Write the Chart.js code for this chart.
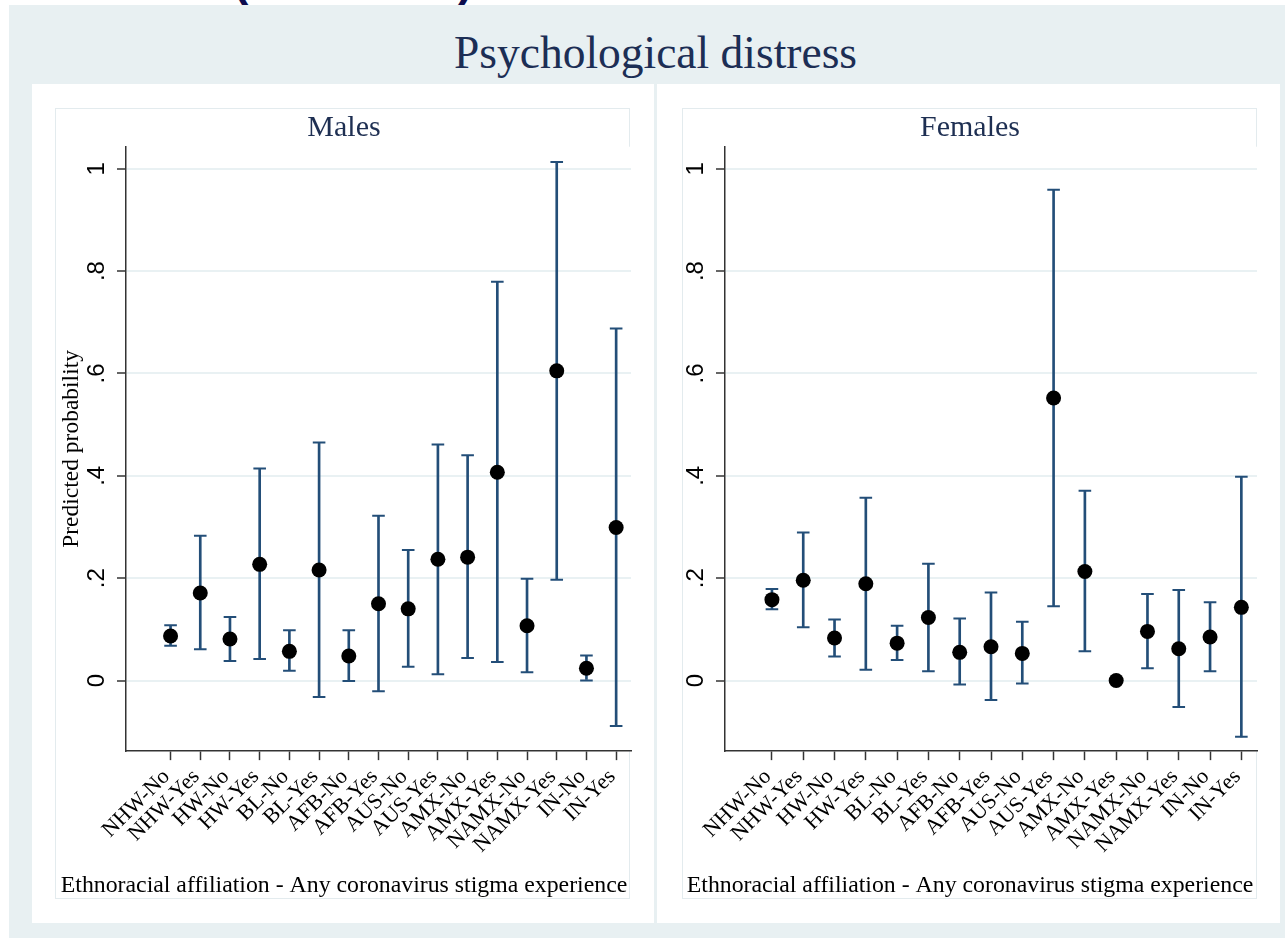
<!DOCTYPE html>
<html>
<head>
<meta charset="utf-8">
<title>Psychological distress</title>
<script src="https://cdn.jsdelivr.net/npm/chart.js@4.4.1/dist/chart.umd.min.js"></script>
<style>
  html, body { margin: 0; padding: 0; background: #ffffff; }
  body { width: 1285px; height: 938px; position: relative; overflow: hidden; }
  #backdrop { position: absolute; left: 9px; top: 5px; width: 1276px; height: 933px; background: #e8f0f2; }
  #heading-strip { position: absolute; left: 0; top: 0; width: 1285px; height: 5px; overflow: hidden; }
  #heading-strip span { position: absolute; top: -44px; font: bold 46px/46px "Liberation Sans", Arial, sans-serif; color: #0c0c4e; }
  #main-title { position: absolute; left: 0; width: 1311px; top: 30px; text-align: center;
    font: 45.5px/45.5px "Liberation Serif", "Times New Roman", serif; color: #1c2e55; }
  .panel { position: absolute; top: 84px; height: 839px; background: #ffffff; }
  .plot-frame { position: absolute; top: 108px; width: 575px; height: 791px; box-sizing: border-box;
    border: 1.5px solid #e3ebee; }
  canvas { position: absolute; top: 84px; }
</style>
</head>
<body>
<div id="backdrop"></div>
<div id="heading-strip"><span style="left:233px">(</span><span style="left:458px">)</span></div>
<div id="main-title">Psychological distress</div>

<div class="panel" style="left:32px;width:622px;"></div>
<div class="panel" style="left:657px;width:623px;"></div>
<div class="plot-frame" style="left:55px;"></div>
<div class="plot-frame" style="left:682px;"></div>
<canvas id="chart-m" width="594" height="839" style="left:47px;"></canvas>
<canvas id="chart-f" width="594" height="839" style="left:673px;"></canvas>

<script>
// Ethnoracial affiliation crossed with any coronavirus stigma experience
const categories = ['NHW-No', 'NHW-Yes', 'HW-No', 'HW-Yes', 'BL-No', 'BL-Yes', 'AFB-No', 'AFB-Yes',
                    'AUS-No', 'AUS-Yes', 'AMX-No', 'AMX-Yes', 'NAMX-No', 'NAMX-Yes', 'IN-No', 'IN-Yes'];

// Predicted probability of psychological distress with 95% confidence limits
const maleEstimate = [0.087, 0.171, 0.081, 0.227, 0.057, 0.216, 0.048, 0.150, 0.140, 0.237, 0.241, 0.407, 0.107, 0.605, 0.024, 0.299];
const maleLower    = [0.068, 0.061, 0.038, 0.042, 0.019, -0.032, -0.001, -0.021, 0.027, 0.012, 0.044, 0.036, 0.016, 0.197, 0.000, -0.089];
const maleUpper    = [0.108, 0.283, 0.124, 0.414, 0.098, 0.465, 0.098, 0.322, 0.255, 0.461, 0.440, 0.779, 0.199, 1.013, 0.049, 0.688];

const femaleEstimate = [0.158, 0.196, 0.083, 0.189, 0.073, 0.123, 0.055, 0.066, 0.053, 0.552, 0.213, 0.000, 0.096, 0.062, 0.085, 0.143];
const femaleLower    = [0.139, 0.104, 0.047, 0.021, 0.040, 0.018, -0.008, -0.038, -0.006, 0.145, 0.057, 0.000, 0.024, -0.052, 0.018, -0.110];
const femaleUpper    = [0.179, 0.289, 0.119, 0.357, 0.107, 0.228, 0.121, 0.172, 0.115, 0.959, 0.371, 0.000, 0.169, 0.177, 0.153, 0.398];

const yTickValues = [0, 0.2, 0.4, 0.6, 0.8, 1];
const yTickLabels = ['0', '.2', '.4', '.6', '.8', '1'];
const yRange = [-0.138, 1.043];
const xRange = [-0.5, 16.5];

const xAxisTitle = 'Ethnoracial affiliation - Any coronavirus stigma experience';
const yAxisTitle = 'Predicted probability';

const SERIF = '"Liberation Serif", "Times New Roman", serif';
const SANS = '"Liberation Sans", Arial, sans-serif';
const CI_COLOR = '#234e78';
const AXIS_COLOR = '#333333';
const GRID_COLOR = '#e9f1f3';
const PANEL_TITLE_COLOR = '#1e2f52';

// paints the plot region white so the frame line does not show through it
const plotBackground = {
  id: 'plotBackground',
  beforeDraw(chart) {
    const a = chart.chartArea;
    const ctx = chart.ctx;
    ctx.save();
    ctx.fillStyle = '#ffffff';
    ctx.fillRect(a.left, a.top, a.right - a.left + 2, a.bottom - a.top);
    ctx.restore();
  }
};

function drawPanel(canvasId, panelTitle, estimate, lower, upper, layout) {
  const xs = categories.map((_, i) => i + 1);
  const points = xs.map((x, i) => ({ x, y: estimate[i] }));
  const whiskers = xs.map((x, i) => ({ x, y: [lower[i], upper[i]] }));
  const caps = xs.flatMap((x, i) => [{ x, y: lower[i] }, { x, y: upper[i] }]);

  new Chart(document.getElementById(canvasId), {
    type: 'scatter',
    data: {
      datasets: [
        {
          type: 'scatter', data: points, order: 0,
          pointStyle: 'circle', pointRadius: 7.5,
          backgroundColor: '#000000', pointBackgroundColor: '#000000',
          borderWidth: 0, pointBorderWidth: 0
        },
        {
          type: 'scatter', data: caps, order: 1,
          pointStyle: 'line', pointRadius: 6.3,
          borderColor: CI_COLOR, pointBorderColor: CI_COLOR, pointBorderWidth: 2
        },
        {
          type: 'bar', data: whiskers, order: 2,
          backgroundColor: CI_COLOR, borderWidth: 0, barThickness: 2, grouped: false
        }
      ]
    },
    options: {
      responsive: false,
      animation: false,
      events: [],
      layout: { padding: { left: 10, right: 10, top: 0, bottom: 0 } },
      plugins: {
        legend: { display: false },
        tooltip: { enabled: false },
        title: {
          display: true, text: panelTitle, color: PANEL_TITLE_COLOR,
          font: { family: SERIF, size: 30, weight: 'normal' },
          padding: { top: 26, bottom: 0.7 }
        },
        subtitle: {
          display: true, position: 'bottom', text: xAxisTitle, color: '#000000',
          font: { family: SERIF, size: 23.8, weight: 'normal' },
          padding: { top: 0, bottom: 23.4 }
        }
      },
      scales: {
        x: {
          type: 'linear', min: xRange[0], max: xRange[1], bounds: 'data', offset: false,
          afterBuildTicks: (s) => { s.ticks = xs.map(v => ({ value: v })); },
          afterFit: (s) => { s.height = 119.9; },
          ticks: {
            autoSkip: false, minRotation: 45, maxRotation: 45, padding: 4, labelOffset: -4,
            color: '#000000', font: { family: SERIF, size: 22 },
            callback: (v, i) => categories[i]
          },
          grid: { drawOnChartArea: false, offset: false, tickLength: 9, tickColor: AXIS_COLOR, tickWidth: 1.5 },
          border: { color: AXIS_COLOR, width: 1.5 }
        },
        y: {
          type: 'linear', min: yRange[0], max: yRange[1], bounds: 'data',
          afterBuildTicks: (s) => { s.ticks = yTickValues.map(v => ({ value: v })); },
          afterFit: (s) => { s.width = layout.yAxisWidth; },
          ticks: {
            minRotation: 90, maxRotation: 90, crossAlign: 'center', padding: 9.5,
            color: '#000000', font: { family: SANS, size: 24 },
            callback: (v, i) => yTickLabels[i]
          },
          grid: { color: GRID_COLOR, lineWidth: 2, tickColor: AXIS_COLOR, tickWidth: 1.5, tickLength: 9 },
          border: { color: AXIS_COLOR, width: 1.5 },
          title: {
            display: layout.showYTitle, text: yAxisTitle, color: '#000000',
            font: { family: SERIF, size: 23.5 },
            padding: { top: 0.5, bottom: 0 }
          }
        }
      }
    },
    plugins: [plotBackground]
  });
}

drawPanel('chart-m', 'Males', maleEstimate, maleLower, maleUpper,
          { yAxisWidth: 69, showYTitle: true });
drawPanel('chart-f', 'Females', femaleEstimate, femaleLower, femaleUpper,
          { yAxisWidth: 42, showYTitle: false });
</script>
</body>
</html>
